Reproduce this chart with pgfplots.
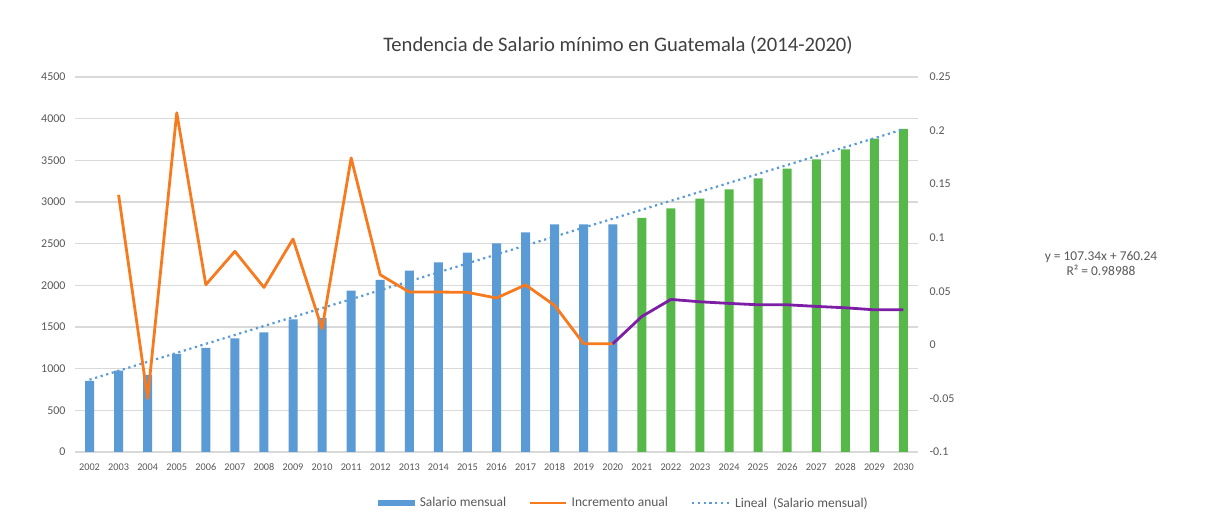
\documentclass[border=0pt]{standalone}
\usepackage{pgfplots}
\pgfplotsset{compat=1.18}
\usepackage{pgfplotstable}
\usepackage{fontspec}
\setmainfont{Carlito}
\definecolor{barblue}{HTML}{5B9BD5}
\definecolor{bargreen}{HTML}{56B848}
\definecolor{lorange}{HTML}{F77B1E}
\definecolor{lpurple}{HTML}{7D1FA5}
\definecolor{txt}{HTML}{595959}

\pgfplotstableread{
x y
0 852
1 976
2 924
3 1176
4 1248
5 1364
6 1436
7 1592
8 1610
9 1936
10 2064
11 2176
12 2276
13 2392
14 2504
15 2636
16 2732
17 2732
18 2732
}\salblue

\pgfplotstableread{
x y
19 2808
20 2924
21 3040
22 3152
23 3284
24 3400
25 3512
26 3632
27 3760
28 3876
}\salgreen

\pgfplotstableread{
x y
1 0.140
2 -0.050
3 0.2166
4 0.0561
5 0.0873
6 0.0536
7 0.0988
8 0.015
9 0.1745
10 0.0654
11 0.0493
12 0.0493
13 0.049
14 0.0437
15 0.056
16 0.0368
17 0.0010
18 0.0010
}\incorange

\pgfplotstableread{
x y
18 0.0010
19 0.0265
20 0.0424
21 0.0402
22 0.0387
23 0.0374
24 0.0374
25 0.0359
26 0.0346
27 0.0327
28 0.0327
}\incpurple

\pgfplotsset{
  legbar/.style={legend image code/.code={\fill[barblue] (0bp,-3bp) rectangle (37bp,3bp);\path (40bp,0bp);}},
  legorange/.style={legend image code/.code={\draw[lorange, line width=2.5bp] (0bp,0bp) -- (36bp,0bp);\path (39bp,0bp);}},
  legdot/.style={legend image code/.code={\draw[barblue, line width=2.2bp, dash pattern=on 2.2bp off 3.6bp] (0bp,0bp) -- (38bp,0bp);\path (40bp,0bp);}},
}

\begin{document}
\begin{tikzpicture}
\useasboundingbox (0,0) rectangle (1220bp,523bp);
\fill[white] (0,0) rectangle (1220bp,523bp);
\begin{axis}[
  at={(75bp,71bp)}, anchor=south west,
  scale only axis, width=843bp, height=375bp,
  xmin=-0.5, xmax=28.5, ymin=0, ymax=4500,
  xtick={0,...,28},
  xticklabels={2002,2003,2004,2005,2006,2007,2008,2009,2010,2011,2012,2013,2014,2015,2016,2017,2018,2019,2020,2021,2022,2023,2024,2025,2026,2027,2028,2029,2030},
  ytick={0,500,...,4500},
  ymajorgrids, grid style={draw=black!15, line width=1.2bp},
  axis line style={draw=none}, major tick length=0pt,
  /pgf/number format/assume math mode=true,
  /pgf/number format/1000 sep={},
  xticklabel style={font=\fontsize{10.3}{12}\selectfont, text=txt, yshift=-8bp},
  yticklabel style={font=\fontsize{12}{14}\selectfont, text=txt, xshift=-6bp},
  legend columns=3,
  legend style={draw=none, fill=none, at={(0.651,-0.136)}, anchor=center,
    font=\fontsize{13.5}{15}\selectfont, text=txt,
    /tikz/every even column/.append style={column sep=21bp}},
]
\addplot[ybar, bar width=9bp, bar shift=0pt, fill=barblue, draw=none, legbar]
  table[x=x,y=y]{\salblue};
\addlegendentry{Salario mensual}
\addplot[ybar, bar width=9bp, bar shift=0pt, fill=bargreen, draw=none, forget plot]
  table[x=x,y=y]{\salgreen};
\addlegendimage{legorange}
\addlegendentry{Incremento anual}
\addplot[barblue, line width=2.2bp, dash pattern=on 2.2bp off 3.6bp, legdot]
  coordinates {(0,867.58) (28,3873.10)};
\addlegendentry{Lineal\ \ (Salario mensual)}
\end{axis}
\begin{axis}[
  at={(75bp,71bp)}, anchor=south west,
  scale only axis, width=843bp, height=375bp,
  xmin=-0.5, xmax=28.5, ymin=-0.1, ymax=0.25,
  hide x axis, axis y line*=right,
  axis line style={draw=none}, major tick length=0pt,
  ytick={-0.1,-0.05,0,0.05,0.1,0.15,0.2,0.25},
  yticklabels={-0.1,-0.05,0,0.05,0.1,0.15,0.2,0.25},
  yticklabel style={font=\fontsize{12}{14}\selectfont, text=txt, xshift=8bp},
]
\addplot[lorange, line width=2.8bp, line join=round] table[x=x,y=y]{\incorange};
\addplot[lpurple, line width=2.8bp, line join=round] table[x=x,y=y]{\incpurple};
\end{axis}
\node[font=\fontsize{20.7}{24}\selectfont, text=black!75] at (618bp,478bp)
  {Tendencia de Salario mínimo en Guatemala (2014-2020)};
\node[align=center, font=\fontsize{13.5}{15}\selectfont, text=txt] at (1101bp,259.5bp)
  {y = 107.34x + 760.24\\R² = 0.98988};
\end{tikzpicture}
\end{document}
